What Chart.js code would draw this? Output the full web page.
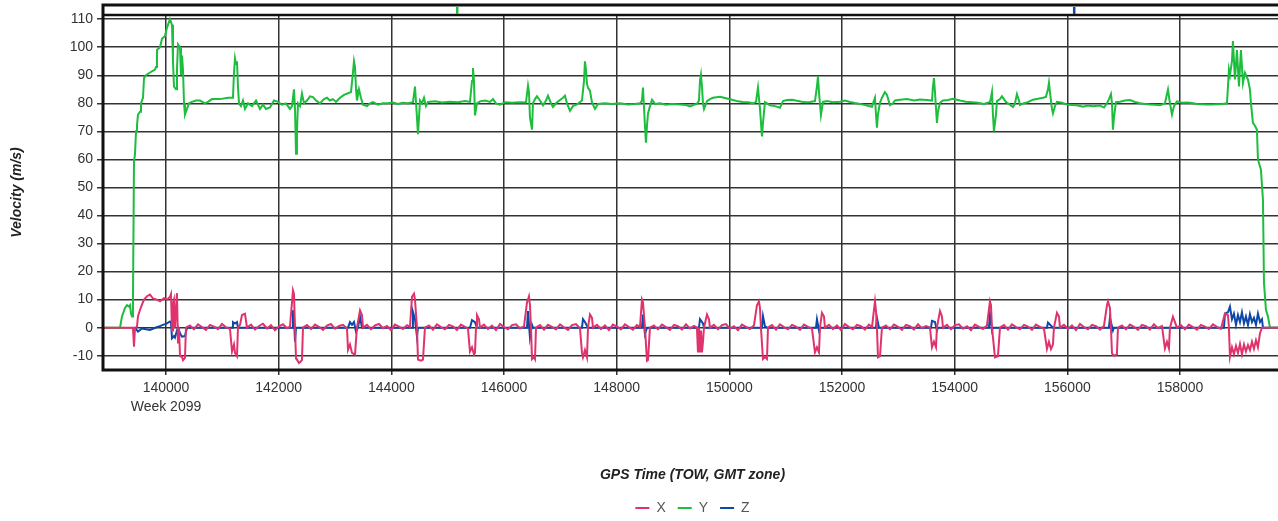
<!DOCTYPE html>
<html>
<head>
<meta charset="utf-8">
<title>Velocity</title>
<script src="https://cdn.jsdelivr.net/npm/chart.js@4.4.0/dist/chart.umd.min.js"></script>
<style>
  html, body { margin: 0; padding: 0; background: #fff; overflow: hidden; }
  #wrap { width: 1284px; height: 525px; }
</style>
</head>
<body>
<div id="wrap"><canvas id="myChart"></canvas></div>
<script>
// tick values
var xTicks = [140000, 142000, 144000, 146000, 148000, 150000, 152000, 154000, 156000, 158000];
var yTicks = [-10, 0, 10, 20, 30, 40, 50, 60, 70, 80, 90, 100, 110];
var seriesNames = ["X", "Y", "Z"];

// event marks in the strip above the plot (GPS time)
var eventTimes = [145165, 156117];

// Y velocity (GPS time of week, m/s)
var timeY = [
  138882,139184,139219,139272,139308,139343,139361,139379,139397,139414,
  139432,139450,139468,139485,139503,139539,139556,139592,139610,139645,
  139716,139805,139823,139840,139894,139929,139982,140018,140071,140107,
  140124,140142,140178,140195,140213,140249,140266,140284,140302,140320,
  140337,140373,140408,140462,140533,140604,140692,140746,140817,140959,
  141101,141189,141207,141225,141243,141260,141278,141296,141331,141367,
  141402,141456,141527,141598,141669,141722,141775,141846,141917,141988,
  142059,142130,142201,142237,142272,142290,142308,142325,142343,142379,
  142414,142450,142503,142556,142609,142663,142734,142805,142858,142911,
  142964,143018,143089,143160,143231,143284,143319,143337,143355,143373,
  143390,143426,143461,143497,143568,143621,143674,143763,143852,143941,
  144029,144118,144207,144296,144384,144420,144455,144473,144491,144509,
  144544,144580,144615,144651,144775,144899,145041,145183,145307,145396,
  145432,145449,145467,145485,145520,145574,145662,145751,145804,145858,
  145929,146017,146142,146284,146390,146426,146443,146461,146497,146514,
  146550,146585,146639,146692,146745,146781,146834,146869,146923,146994,
  147047,147082,147118,147171,147224,147295,147349,147384,147420,147437,
  147455,147473,147491,147526,147562,147615,147668,147792,147917,148059,
  148201,148325,148414,148449,148467,148502,148520,148538,148556,148591,
  148627,148680,148769,148875,148982,149124,149230,149301,149372,149425,
  149461,149479,149496,149514,149532,149550,149603,149656,149709,149834,
  149958,150064,150153,150242,150331,150419,150473,150508,150544,150579,
  150597,150632,150668,150721,150810,150899,150952,151023,151112,151200,
  151289,151360,151431,151520,151555,151573,151591,151626,151662,151733,
  151839,151964,152052,152141,152230,152319,152425,152532,152567,152585,
  152603,152620,152638,152674,152709,152762,152798,152851,152904,152940,
  153029,153153,153277,153384,153508,153597,153614,153632,153650,153685,
  153703,153739,153792,153881,153969,154094,154200,154307,154413,154520,
  154626,154644,154662,154679,154697,154733,154750,154804,154839,154910,
  154981,155034,155070,155105,155141,155159,155212,155283,155336,155389,
  155478,155567,155620,155656,155673,155691,155727,155744,155780,155815,
  155904,155993,156082,156170,156277,156366,156454,156579,156650,156703,
  156738,156774,156792,156809,156827,156863,156934,157022,157111,157200,
  157289,157377,157466,157555,157644,157732,157786,157821,157857,157892,
  157945,158034,158123,158212,158300,158389,158478,158567,158655,158744,
  158833,158851,158868,158886,158922,158939,158975,159010,159046,159081,
  159117,159152,159206,159241,159259,159294,159330,159365,159383,159436,
  159472,159490,159525,159561,159596,159862
];
var velY = [
  0,0,4,7,8,7.5,8,5,4,10,
  59,62,70,72,76,77,80,82,89,90,
  91,92,93,99,100,103,104,107,110,108,
  95,86,85,92,101,100,90,97,92,80,
  76,78,80,80.5,81,81,80,80.5,81.5,81.5,
  82,82,91,96,94,95,86,80,79,81,
  78,80,79,81,78,79.5,78,78.5,81,80.5,
  79.5,80,78,79,85,78,62,70,80,79,
  83.5,80,81,82.5,82.2,81,80,81.5,82,81,
  81.5,80.5,82,83,83.6,84,91,95,93,85,
  81,85,82,79.5,79,80,80.4,79.5,80,80,
  80.3,79.8,80.2,80,80.4,86,75,69,75,81,
  80,82,79,80.5,80.7,80.3,80.6,80.4,80.8,80.5,
  88,92.6,88,75.7,80,80.7,81,80.5,81.5,80,
  79.5,80.4,80.2,80.4,80.3,86.3,84,75,70.6,80,
  81.5,82.5,81,79.3,81,82.7,80,78.7,80,81.2,
  82,82.7,80,77.3,79,79.6,80.5,81,88,95,
  92,87,85.5,84.5,80.3,78,79.8,80,79.8,80,
  79.6,79.8,80,81,85.6,72,66,72,76.4,79,
  81.3,79.8,80,79.5,79.8,79.6,79.4,78.9,79.5,79.8,
  81,88,90.2,86,80,78,80.8,81.5,82,82.3,
  81.7,81.2,80.7,80.5,80.4,80,80.5,85.6,78,68.2,
  73,80.4,80,79.3,79,78.4,80.8,81.2,81.3,80.9,
  80.6,80.4,80.5,80.8,86,89.6,84,75.8,80.5,80.8,
  80.4,80.6,81,80.5,80.1,79.8,79.3,78.8,81,82,
  76,71.3,76,80.2,82,84,83,79.3,80,81,
  81.3,81.5,81,81.4,81.2,81,86,89,84,73,
  77,80.2,81,81.2,81.6,81,80.6,80.4,80.2,79.8,
  80.5,82,84,76,70,76,80.8,81.5,82.5,80.5,
  79.5,78.7,80,83.3,81,79.4,80,80.3,80.8,81.3,
  81.6,82,82.3,85,87.3,84,78,76.4,79,80.5,
  80.2,79.6,79.4,79.3,78.8,79.2,79,79.2,78.5,80,
  81.5,83.3,80,70.6,75,80.4,80.6,81,81.2,80.5,
  80,79.8,79.6,79.5,79.3,80,84.9,80,76,79,
  80.7,80.2,80.3,80.1,79.8,79.7,79.6,79.6,79.7,79.8,
  80,86,92,90,95,102.2,88.5,99,86,99,
  87.3,90.9,88.5,84.9,80,73,72,70.6,60,56.3,
  45.6,16,6.4,4,0,0
];

// X velocity
var timeX = [
  138882,139414,139432,139450,139485,139503,139539,139574,139610,139663,
  139716,139769,139840,139894,139965,140018,140071,140089,140107,140124,
  140142,140160,140195,140213,140231,140249,140284,140302,140337,140355,
  140426,140497,140568,140639,140710,140781,140852,140923,140994,141065,
  141136,141172,141207,141225,141260,141278,141314,141349,141402,141438,
  141509,141580,141651,141722,141793,141864,141935,142006,142077,142148,
  142201,142254,142272,142290,142308,142325,142361,142396,142414,142432,
  142503,142574,142645,142716,142787,142858,142929,143000,143071,143142,
  143213,143231,143266,143302,143355,143390,143444,143479,143497,143568,
  143639,143710,143781,143852,143923,143994,144065,144136,144207,144278,
  144331,144367,144402,144420,144455,144473,144526,144562,144597,144668,
  144739,144810,144881,144952,145023,145094,145165,145236,145307,145361,
  145396,145432,145467,145485,145503,145520,145556,145574,145645,145716,
  145787,145858,145929,146000,146071,146142,146213,146284,146355,146408,
  146443,146461,146479,146497,146532,146550,146568,146639,146710,146781,
  146852,146923,146994,147065,147136,147207,147278,147349,147384,147402,
  147437,147473,147491,147526,147562,147579,147650,147721,147792,147863,
  147934,148005,148076,148147,148218,148289,148360,148414,148449,148467,
  148502,148538,148556,148591,148662,148733,148804,148875,148946,149017,
  149088,149159,149230,149301,149372,149425,149443,149461,149479,149496,
  149514,149532,149550,149603,149638,149656,149727,149798,149869,149940,
  150011,150082,150153,150224,150295,150366,150437,150490,150526,150544,
  150561,150597,150632,150668,150686,150757,150828,150899,150970,151041,
  151112,151183,151254,151325,151396,151467,151520,151555,151591,151609,
  151644,151680,151697,151768,151839,151910,151981,152052,152123,152194,
  152265,152336,152407,152478,152532,152585,152603,152620,152638,152674,
  152709,152780,152851,152922,152993,153064,153135,153206,153277,153348,
  153419,153490,153561,153597,153632,153668,153685,153739,153774,153792,
  153863,153934,154005,154076,154147,154218,154289,154360,154431,154502,
  154573,154626,154644,154662,154715,154768,154804,154875,154946,155017,
  155088,155159,155230,155301,155372,155443,155514,155585,155638,155673,
  155709,155744,155762,155815,155851,155869,155940,156011,156082,156153,
  156224,156295,156366,156437,156508,156579,156650,156703,156721,156756,
  156774,156792,156827,156880,156898,156969,157040,157111,157182,157253,
  157324,157395,157466,157537,157608,157679,157732,157768,157803,157821,
  157874,157910,157945,158016,158087,158158,158229,158300,158371,158442,
  158513,158584,158655,158726,158797,158851,158868,158886,158922,158957,
  158993,159028,159064,159099,159135,159170,159206,159241,159277,159312,
  159348,159383,159419,159454,159862
];
var velX = [
  0,0,-6.8,0,0.3,4,6.4,8.2,10,11.2,
  11.8,10.4,10,9.4,10.5,10,11,12,-1,8.6,
  10,0,12.3,-5.6,0,-10.2,-10.4,-11.6,-10.8,0,
  0.8,-0.6,1.2,0.2,-0.8,1.0,0.4,-0.5,1.3,0.1,
  -0.4,-8.5,-6,-9,-10.2,0,1,4.5,5,0,
  1.1,-0.7,0.6,1.4,-0.3,0.9,-0.9,0.5,1.2,-0.2,
  0.4,13.3,12,0,-11,-11.4,-12.6,-12,-11.5,0,
  0.9,-0.5,1.1,0.3,-0.8,0.7,1.3,-0.4,0.6,1.0,
  -0.3,-7.9,-6,-9,-9.6,0,6.2,4.5,0,1.0,
  -0.6,0.8,1.3,-0.2,0.6,-0.9,1.1,0.4,-0.5,0.9,
  0.3,11,12.1,10,0,-11.4,-11.8,-11.4,0,0.8,
  -0.7,1.2,0.2,-0.6,1.0,0.5,-0.8,1.1,0.3,-0.4,
  -8.5,-7,-9.6,-9,0,4.5,3,0,1.1,-0.5,
  0.7,-0.9,1.3,0.2,-0.6,0.9,1.2,-0.3,0.5,9,
  11.2,8,0,-11.2,-10.5,-11.2,0,0.9,-0.7,1.0,
  0.3,-0.6,1.2,0.1,-0.8,0.9,1.3,-0.2,-9,-10.6,
  -8,-10.6,0,4.7,3.5,0,1.0,-0.5,0.8,-0.9,
  1.1,0.4,-0.6,1.2,0.2,-0.7,0.9,0.3,10,9,
  0,-11.8,-11.5,0,0.8,-0.6,1.1,0.2,-0.8,1.0,
  0.5,-0.7,1.2,-0.3,0.6,0,-8.8,0,-8.8,-1,
  -8.8,-5,0,4.7,3,0,1.0,-0.6,0.9,1.3,
  -0.4,0.5,-0.9,1.1,0.3,-0.5,0.8,8,9.4,7,
  0,-11.2,-10.5,-11.2,0,0.9,-0.7,1.2,0.2,-0.6,
  1.0,0.4,-0.8,1.1,0.3,-0.4,-8.8,-7,-8.8,0,
  5.3,4,0,1.0,-0.5,0.8,-0.9,1.3,0.2,-0.6,
  1.0,0.5,-0.7,1.1,0.2,9.4,6,0,-10.6,-10.2,
  0,0.8,-0.6,1.1,0.3,-0.8,1.0,0.5,-0.7,1.2,
  -0.2,0.6,0.1,-7,-5,-7,0,5.9,4,0,
  1.0,-0.6,0.9,1.2,-0.4,0.5,-0.9,1.1,0.3,-0.5,
  0.8,9.4,8,0,-10.6,-10.2,0,0.9,-0.7,1.2,
  0.2,-0.6,1.0,0.4,-0.8,1.1,0.3,-0.4,-7.6,-5,
  -7.6,-6,0,5.3,4,0,1.0,-0.5,0.8,-0.9,
  1.3,0.2,-0.6,1.0,0.5,-0.7,0.6,8,9.4,7,
  0,-9.2,-10,-9.5,0,0.8,-0.6,1.1,0.3,-0.8,
  1.0,0.5,-0.7,1.2,-0.2,0.6,-7.4,-5,-7.4,0,
  3.9,2,0,0.9,-0.6,1.1,0.2,-0.7,1.0,0.4,
  -0.5,1.2,0.3,-0.4,5,4.5,0,-10.4,-7,-9.5,
  -6.5,-9,-5.8,-9.5,-6,-8.5,-6.2,-8,-5,-7.5,
  -4.5,-7,-2,0,0
];

// Z velocity
var timeZ = [
  139414,139468,139503,139574,139645,139716,139787,139858,139947,140018,
  140071,140089,140107,140142,140160,140195,140213,140249,140284,140337,
  140373,141172,141189,141225,141260,141278,142237,142254,142272,142290,
  142308,143231,143266,143302,143337,143373,143408,143444,143479,144367,
  144384,144420,144455,144473,145396,145432,145485,145520,146408,146426,
  146461,146497,146514,147384,147402,147437,147491,148449,148467,148502,
  148538,149461,149479,149532,149550,150579,150597,150632,150668,151538,
  151555,151591,151609,152603,152620,152656,153579,153597,153650,153685,
  153703,154608,154626,154662,154679,155638,155656,155744,156738,156756,
  156809,156827,158780,158797,158851,158886,158922,158957,158993,159028,
  159064,159099,159135,159170,159206,159241,159277,159312,159348,159383,
  159419,159454,159472,159862
];
var velZ = [
  0,-0.5,-1.4,-0.3,-0.6,-0.8,-0.2,0.3,1,1.5,
  2.2,1.8,-3.8,-3,-3.5,-1,0,-2,-3.2,-3,
  0,0,2,1.5,2,0,0,6.2,4,-5,
  0,0,2,1,2,-1.4,0,3.9,0,0,
  5.6,3,-3.2,0,0,2.7,2,0,0,5.9,
  -3.5,1,0,0,3,2,0,0,4.7,-2.3,
  0,0,3,1.5,0,0,4.1,0.5,0,0,
  3,-1,0,0,3.5,0,0,2.4,2,-1,
  0,0,4.7,-1,0,0,1.8,0,0,3.5,
  -1,0,0,5,5.5,7.5,3,5,1,4.5,
  2,5.5,1.5,4,1,4.8,2,3.5,1,5,
  2,3,0,0
];

function pts(t, v) {
  return t.map(function (x, i) { return { x: x, y: v[i] }; });
}

// thick frame, the thin strip above the plot and its event ticks
var framePlugin = {
  id: "frame",
  afterDraw: function (chart) {
    var a = chart.chartArea, ctx = chart.ctx, xs = chart.scales.x;
    var stripTop = a.top - 10;
    ctx.save();
    ctx.strokeStyle = "#111";
    ctx.lineWidth = 3;
    ctx.strokeRect(a.left, stripTop, a.right - a.left, a.bottom - stripTop);
    ctx.lineWidth = 2.5;
    ctx.beginPath();
    ctx.moveTo(a.left, a.top);
    ctx.lineTo(a.right, a.top);
    ctx.stroke();
    var cols = ["#1dbd3d", "#0d47a8"];
    eventTimes.forEach(function (t, i) {
      var px = xs.getPixelForValue(t);
      ctx.fillStyle = cols[i];
      ctx.fillRect(px - 1, stripTop + 2, 2.5, 7);
    });
    ctx.restore();
  }
};

Chart.defaults.font.family = "'Liberation Sans', Arial, sans-serif";
Chart.defaults.color = "#333";

var ctx = document.getElementById("myChart").getContext("2d");
var myChart = new Chart(ctx, {
  type: "line",
  data: {
    datasets: [
      {
        label: seriesNames[0],
        data: pts(timeX, velX),
        borderColor: "#e0336b",
        backgroundColor: "#e0336b",
        borderWidth: 2,
      },
      {
        label: seriesNames[1],
        data: pts(timeY, velY),
        borderColor: "#1dbd3d",
        backgroundColor: "#1dbd3d",
        borderWidth: 2,
      },
      {
        label: seriesNames[2],
        data: pts(timeZ, velZ),
        borderColor: "#0d47a8",
        backgroundColor: "#0d47a8",
        borderWidth: 2,
      },
    ],
  },
  options: {
    responsive: true,
    maintainAspectRatio: false,
    animation: false,
    parsing: false,
    elements: { point: { radius: 0 }, line: { tension: 0 } },
    layout: { padding: { top: 15, right: 2, left: 0, bottom: 0 } },
    plugins: {
      tooltip: { enabled: false },
      legend: {
        position: "bottom",
        fullSize: false,
        labels: {
          usePointStyle: true,
          pointStyle: "line",
          pointStyleWidth: 14,
          padding: 12,
          color: "#555",
          font: { size: 14 },
        },
      },
    },
    scales: {
      x: {
        type: "linear",
        min: 138882,
        max: 159810,
        afterBuildTicks: function (scale) {
          scale.ticks = xTicks.map(function (v) { return { value: v }; });
        },
        afterFit: function (scale) {
          scale.height = 119;
          scale.paddingLeft = 0;
          scale.paddingRight = 0;
        },
        ticks: {
          autoSkip: false,
          maxRotation: 0,
          padding: 3,
          color: "#333",
          font: { size: 14, lineHeight: 1.4 },
          callback: function (v) {
            return v === 140000 ? ["140000", "Week 2099"] : String(v);
          },
        },
        grid: { color: "#333", lineWidth: 1.5, tickLength: 5 },
        border: { display: false },
        title: {
          display: true,
          text: "GPS Time (TOW, GMT zone)",
          color: "#222",
          font: { size: 14, weight: "bold", style: "italic" },
          padding: { top: 4, bottom: 5 },
        },
      },
      y: {
        min: -15.1,
        max: 111.5,
        afterBuildTicks: function (scale) {
          scale.ticks = yTicks.map(function (v) { return { value: v }; });
        },
        afterFit: function (scale) {
          scale.width = 103;
          scale.paddingTop = 0;
          scale.paddingBottom = 0;
        },
        ticks: { padding: 4, color: "#333", font: { size: 14 } },
        grid: { color: "#333", lineWidth: 1.5, tickLength: 6 },
        border: { display: false },
        title: {
          display: true,
          text: "Velocity (m/s)",
          color: "#222",
          font: { size: 14, weight: "bold", style: "italic" },
          padding: { top: 9, bottom: 0 },
        },
      },
    },
  },
  plugins: [framePlugin],
});
</script>
</body>
</html>
